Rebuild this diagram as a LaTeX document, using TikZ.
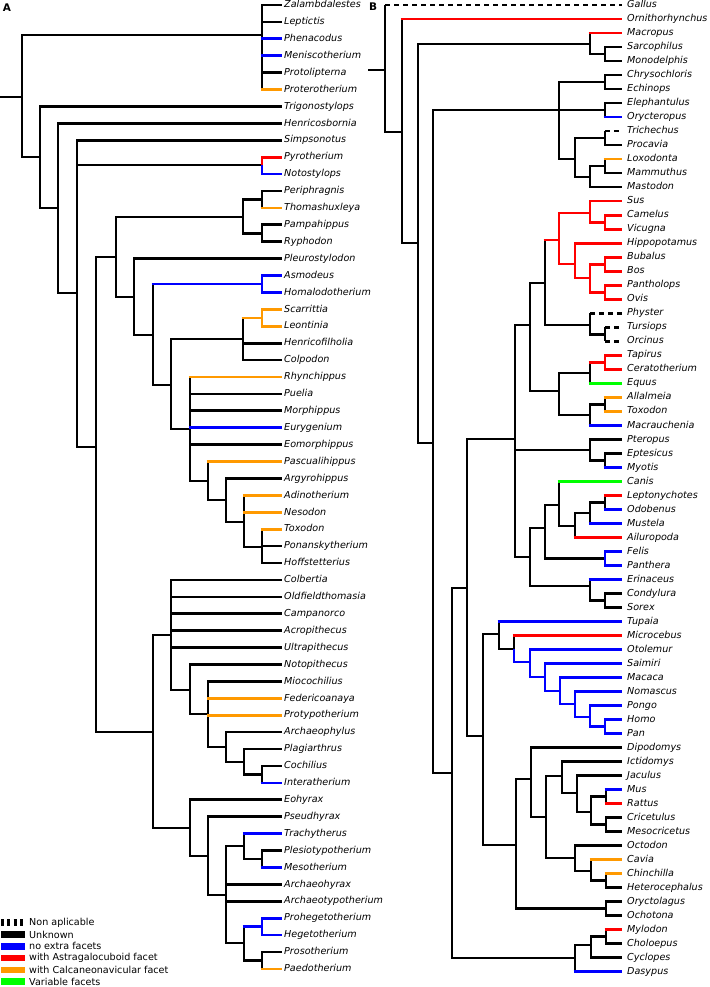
\documentclass[tikz,border=0pt]{standalone}
\usepackage{fontspec}
\setmainfont{DejaVu Sans}
\definecolor{FacetBlue}{HTML}{0000FF}
\definecolor{FacetRed}{HTML}{FF0000}
\definecolor{FacetOrange}{HTML}{FF9900}
\definecolor{FacetGreen}{HTML}{00FF00}

\begin{document}
\begin{tikzpicture}[x=1pt,y=-1pt,
  br/.style={line width=2.7pt},
  hz/.style={br,shorten <=-1.35pt},
  na/.style={br,dash pattern=on 4.5pt off 4.5pt},
  blu/.style={FacetBlue},
  rd/.style={FacetRed},
  ora/.style={FacetOrange},
  grn/.style={FacetGreen},
  tipA/.style={anchor=west,inner xsep=2pt,inner ysep=0pt,text height=7pt,
    text depth=1.6pt,font=\fontsize{9.6}{11}\selectfont\itshape},
  tipB/.style={tipA,inner xsep=5pt},
  panel/.style={font=\fontsize{10.5}{12}\selectfont\bfseries,inner sep=0pt},
  key/.style={line width=6.5pt},
  keyna/.style={key,dash pattern=on 3pt off 3.3pt},
  keyunk/.style={key},
  keyblu/.style={key,FacetBlue},
  keyrd/.style={key,FacetRed},
  keyora/.style={key,FacetOrange},
  keygrn/.style={key,FacetGreen},
  keytxt/.style={anchor=west,inner xsep=2pt,inner ysep=0pt,
    font=\fontsize{9.6}{11}\selectfont}]
  \useasboundingbox (0,0) rectangle (709,987);

  % ---------- A: notoungulates ----------
  \node[panel] (labA) at (7,8) {A};
  \coordinate (Abase) at (0,97);
  \coordinate (Ar)    at (22,97);
  \coordinate (Aout)  at (262,35);
  \coordinate (A40)   at (40,157);
  \coordinate (A58)   at (58,208);
  \coordinate (A77)   at (77,293);
  \coordinate (Apyr)  at (262,165);
  \coordinate (A96)   at (96,447);
  \coordinate (A116)  at (116,257);
  \coordinate (Aper)  at (243,217);
  \coordinate (Apt)   at (262,199.5);
  \coordinate (Apr)   at (262,233.3);
  \coordinate (A134)  at (134,297);
  \coordinate (A153)  at (153,335);
  \coordinate (Aasm)  at (262,284);
  \coordinate (A171)  at (171,385);
  \coordinate (Asl)   at (243,339);
  \coordinate (Asc)   at (262,318);
  \coordinate (A190)  at (190,429);
  \coordinate (A208)  at (208,481);
  \coordinate (A226)  at (226,500);
  \coordinate (A244)  at (244,522);
  \coordinate (A262)  at (262,547);
  \coordinate (A153b) at (153,732);
  \coordinate (A171b) at (171,635);
  \coordinate (A190b) at (190,690);
  \coordinate (A208b) at (208,714);
  \coordinate (A226b) at (226,747);
  \coordinate (A244b) at (244,762);
  \coordinate (A262b) at (262,774.4);
  \coordinate (A190c) at (190,828);
  \coordinate (A208c) at (208,856);
  \coordinate (A226c) at (226,895);
  \coordinate (A244c) at (244,846);
  \coordinate (A262c) at (262,859);
  \coordinate (A244d) at (244,943);
  \coordinate (A262d) at (262,926.6);
  \coordinate (A262e) at (262,960.4);

  \foreach \t [count=\i from 0] in {Zalambdalestes,Leptictis,Phenacodus,
    Meniscotherium,Protolipterna,Proterotherium,Trigonostylops,Henricosbornia,
    Simpsonotus,Pyrotherium,Notostylops,Periphragnis,Thomashuxleya,Pampahippus,
    Ryphodon,Pleurostylodon,Asmodeus,Homalodotherium,Scarrittia,Leontinia,
    Henricofilholia,Colpodon,Rhynchippus,Puelia,Morphippus,Eurygenium,
    Eomorphippus,Pascualihippus,Argyrohippus,Adinotherium,Nesodon,Toxodon,
    Ponanskytherium,Hoffstetterius,Colbertia,Oldfieldthomasia,Campanorco,
    Acropithecus,Ultrapithecus,Notopithecus,Miocochilius,Federicoanaya,
    Protypotherium,Archaeophylus,Plagiarthrus,Cochilius,Interatherium,Eohyrax,
    Pseudhyrax,Trachytherus,Plesiotypotherium,Mesotherium,Archaeohyrax,
    Archaeotypotherium,Prohegetotherium,Hegetotherium,Prosotherium,Paedotherium}
    \node[tipA] (a\i) at (282,{5+16.91*\i}) {\t};

  \draw[br] (Abase) -- (Ar);
  \foreach \p/\c in {Ar/Aout,Ar/A40,Aout/a0,Aout/a1,Aout/a2,Aout/a3,Aout/a4,
    Aout/a5,A40/a6,A40/A58,A58/a7,A58/A77,A77/a8,A77/Apyr,A77/A96,Apyr/a9,
    Apyr/a10,A96/A116,A96/A153b,A116/Aper,A116/A134,Aper/Apt,Aper/Apr,
    Apt/a11,Apt/a12,Apr/a13,Apr/a14,A134/a15,A134/A153,A153/Aasm,A153/A171,
    Aasm/a16,Aasm/a17,A171/Asl,A171/A190,Asl/Asc,Asl/a20,Asl/a21,Asc/a18,
    Asc/a19,A190/a22,A190/a23,A190/a24,A190/a25,A190/a26,A190/A208,A208/a27,
    A208/A226,A226/a28,A226/A244,A244/a29,A244/a30,A244/A262,A262/a31,
    A262/a32,A262/a33,A153b/A171b,A153b/A190c,A171b/a34,A171b/a35,A171b/a36,
    A171b/a37,A171b/a38,A171b/A190b,A190b/a39,A190b/A208b,A208b/a40,
    A208b/a41,A208b/a42,A208b/A226b,A226b/a43,A226b/A244b,A244b/a44,
    A244b/A262b,A262b/a45,A262b/a46,A190c/a47,A190c/A208c,A208c/a48,
    A208c/A226c,A226c/A244c,A226c/a52,A226c/a53,A226c/A244d,A244c/a49,
    A244c/A262c,A262c/a50,A262c/a51,A244d/A262d,A244d/A262e,A262d/a54,
    A262d/a55,A262e/a56,A262e/a57}
    \draw[br] (\p) |- (\c);

  % facets, horizontal part only
  \foreach \p/\c/\col in {Aout/a2/blu,Aout/a3/blu,Aout/a5/ora,Apt/a12/ora,
    A153/Aasm/blu,Asl/Asc/ora,A190/a22/ora,A190/a25/blu,A208/a27/ora,
    A244/a29/ora,A244/a30/ora,A262/a31/ora,A208b/a41/ora,A208b/a42/ora,
    A262b/a46/blu,A244c/a49/blu,A262c/a51/blu,A244d/A262d/blu,A262e/a57/ora}
    \draw[hz,\col] (\p |- \c) -- (\c);
  % facets, whole branch
  \foreach \p/\c/\col in {Apyr/a9/rd,Apyr/a10/blu,Aasm/a16/blu,Aasm/a17/blu,
    Asc/a18/ora,Asc/a19/ora,A262d/a54/blu,A262d/a55/blu}
    \draw[br,\col] (\p) |- (\c);

  % ---------- B: mammals ----------
  \node[panel] (labB) at (373,7) {B};
  \coordinate (Bbase) at (368,70);
  \coordinate (Br)    at (385,70);
  \coordinate (Bmam)  at (402,132);
  \coordinate (Bthe)  at (418,243);
  \coordinate (Bmar)  at (590,44);
  \coordinate (Bsm)   at (605,54);
  \coordinate (Bpla)  at (433,443);
  \coordinate (Bafr)  at (559,110);
  \coordinate (Bce)   at (605,82.1);
  \coordinate (Beo)   at (605,110.1);
  \coordinate (Bpae)  at (575,159);
  \coordinate (Btp)   at (605,138.1);
  \coordinate (Bpro)  at (590,177);
  \coordinate (Blm)   at (605,166.1);
  \coordinate (Bbor)  at (452,773);
  \coordinate (B467)  at (467,588);
  \coordinate (Blau)  at (515,439);
  \coordinate (B530)  at (530,325);
  \coordinate (B545)  at (545,283);
  \coordinate (Bart)  at (559,240);
  \coordinate (Bsus)  at (590,213);
  \coordinate (Bcv)   at (605,222.2);
  \coordinate (Bhip)  at (575,264);
  \coordinate (Bbov)  at (590,278);
  \coordinate (Bbb)   at (605,264.2);
  \coordinate (Bpo)   at (605,292.2);
  \coordinate (Bcet)  at (590,325);
  \coordinate (Bto)   at (605,334.2);
  \coordinate (Bper)  at (559,391);
  \coordinate (Btce)  at (590,373);
  \coordinate (Btc)   at (605,362.3);
  \coordinate (Batm)  at (590,415);
  \coordinate (Bat)   at (605,404.3);
  \coordinate (Bbat)  at (590,450);
  \coordinate (Bem)   at (605,460.3);
  \coordinate (B529)  at (530,557);
  \coordinate (Bcar)  at (545,528);
  \coordinate (Bcan)  at (559,505);
  \coordinate (Bail)  at (575,526);
  \coordinate (Blom)  at (590,513);
  \coordinate (Blo)   at (605,502.4);
  \coordinate (Bfp)   at (605,558.4);
  \coordinate (Beul)  at (590,586);
  \coordinate (Bcs)   at (605,600.4);
  \coordinate (Beua)  at (483,736);
  \coordinate (Bpri)  at (499,634);
  \coordinate (Bstr)  at (514,649);
  \coordinate (Bhap)  at (530,662);
  \coordinate (Banth) at (545,677);
  \coordinate (Bcat)  at (560,691);
  \coordinate (Bhom)  at (575,704);
  \coordinate (Bhmd)  at (590,717);
  \coordinate (Bhp)   at (605,726.5);
  \coordinate (Bgli)  at (516,845);
  \coordinate (Brod)  at (531,779);
  \coordinate (B546)  at (546,817);
  \coordinate (B562)  at (562,776);
  \coordinate (B577)  at (577,793);
  \coordinate (Bmur)  at (591,812);
  \coordinate (Bmr)   at (606,796.6);
  \coordinate (Bcm)   at (606,824.6);
  \coordinate (Bhys)  at (575,858);
  \coordinate (Bcav)  at (591,871);
  \coordinate (Bch)   at (606,880.6);
  \coordinate (Blag)  at (606,908.6);
  \coordinate (Bxen)  at (575,958);
  \coordinate (Bpil)  at (591,945);
  \coordinate (Bmc)   at (606,936.7);

  \foreach \t [count=\i from 0] in {Gallus,Ornithorhynchus,Macropus,
    Sarcophilus,Monodelphis,Chrysochloris,Echinops,Elephantulus,Orycteropus,
    Trichechus,Procavia,Loxodonta,Mammuthus,Mastodon,Sus,Camelus,Vicugna,
    Hippopotamus,Bubalus,Bos,Pantholops,Ovis,Physter,Tursiops,Orcinus,Tapirus,
    Ceratotherium,Equus,Allalmeia,Toxodon,Macrauchenia,Pteropus,Eptesicus,
    Myotis,Canis,Leptonychotes,Odobenus,Mustela,Ailuropoda,Felis,Panthera,
    Erinaceus,Condylura,Sorex,Tupaia,Microcebus,Otolemur,Saimiri,Macaca,
    Nomascus,Pongo,Homo,Pan,Dipodomys,Ictidomys,Jaculus,Mus,Rattus,Cricetulus,
    Mesocricetus,Octodon,Cavia,Chinchilla,Heterocephalus,Oryctolagus,Ochotona,
    Mylodon,Choloepus,Cyclopes,Dasypus}
    \node[tipB] (b\i) at (622,{5+14.01*\i}) {\t};

  \draw[br] (Bbase) -- (Br);
  \foreach \p/\c in {Br/Bmam,Bmam/b1,Bmam/Bthe,Bthe/Bmar,Bthe/Bpla,Bmar/b2,
    Bmar/Bsm,Bsm/b3,Bsm/b4,Bpla/Bafr,Bpla/Bbor,Bafr/Bce,Bafr/Beo,Bafr/Bpae,
    Bce/b5,Bce/b6,Beo/b7,Beo/b8,Bpae/Btp,Bpae/Bpro,Btp/b10,Bpro/Blm,
    Bpro/b13,Blm/b11,Blm/b12,Bbor/B467,Bbor/Bxen,B467/Blau,B467/Beua,
    Blau/B530,Blau/Bbat,Blau/B529,B530/B545,B530/Bper,B545/Bart,B545/Bcet,
    Bart/Bsus,Bart/Bhip,Bsus/b14,Bsus/Bcv,Bcv/b15,Bcv/b16,Bhip/b17,
    Bhip/Bbov,Bbov/Bbb,Bbov/Bpo,Bbb/b18,Bbb/b19,Bpo/b20,Bpo/b21,Bcet/Bto,
    Bper/Btce,Bper/Batm,Btce/Btc,Btce/b27,Btc/b25,Btc/b26,Batm/Bat,
    Batm/b30,Bat/b28,Bat/b29,Bbat/b31,Bbat/Bem,Bem/b32,Bem/b33,B529/Bcar,
    B529/Beul,Bcar/Bcan,Bcar/Bfp,Bcan/b34,Bcan/Bail,Bail/Blom,Bail/b38,
    Blom/Blo,Blom/b37,Blo/b35,Blo/b36,Bfp/b39,Bfp/b40,Beul/b41,Beul/Bcs,
    Bcs/b42,Bcs/b43,Beua/Bpri,Beua/Bgli,Bpri/b44,Bpri/Bstr,Bstr/b45,
    Bstr/Bhap,Bhap/b46,Bhap/Banth,Banth/b47,Banth/Bcat,Bcat/b48,Bcat/Bhom,
    Bhom/b49,Bhom/Bhmd,Bhmd/b50,Bhmd/Bhp,Bhp/b51,Bhp/b52,Bgli/Brod,
    Bgli/Blag,Brod/b53,Brod/B546,B546/B562,B546/Bhys,B562/b54,B562/B577,
    B577/b55,B577/Bmur,Bmur/Bmr,Bmur/Bcm,Bmr/b56,Bmr/b57,Bcm/b58,Bcm/b59,
    Bhys/b60,Bhys/Bcav,Bcav/b61,Bcav/Bch,Bch/b62,Bch/b63,Blag/b64,Blag/b65,
    Bxen/Bpil,Bxen/b69,Bpil/Bmc,Bpil/b68,Bmc/b66,Bmc/b67}
    \draw[br] (\p) |- (\c);

  % non aplicable: solid vertical, dotted branch
  \foreach \p/\c in {Br/b0,Btp/b9,Bcet/b22,Bto/b23,Bto/b24}{
    \draw[br] (\p) -- (\p |- \c);
    \draw[na] (\p |- \c) -- (\c);
  }

  \foreach \p/\c/\col in {Bmam/b1/rd,Bmar/b2/rd,Beo/b8/blu,Blm/b11/ora,
    B545/Bart/rd,Btce/Btc/rd,Btce/b27/grn,Bat/b28/ora,Bat/b29/ora,
    Batm/b30/blu,Bem/b33/blu,Bcan/b34/grn,Blo/b35/rd,Blo/b36/blu,
    Blom/b37/blu,Bail/b38/rd,Beul/b41/blu,Bpri/b44/blu,Bstr/b45/rd,
    Bmr/b56/blu,Bmr/b57/rd,Bcav/b61/ora,Bch/b62/ora,Bmc/b66/rd,Bxen/b69/blu}
    \draw[hz,\col] (\p |- \c) -- (\c);
  \foreach \p/\c/\col in {Bart/Bsus/rd,Bart/Bhip/rd,Bsus/b14/rd,Bsus/Bcv/rd,
    Bcv/b15/rd,Bcv/b16/rd,Bhip/b17/rd,Bhip/Bbov/rd,Bbov/Bbb/rd,Bbov/Bpo/rd,
    Bbb/b18/rd,Bbb/b19/rd,Bpo/b20/rd,Bpo/b21/rd,Btc/b25/rd,Btc/b26/rd,
    Bfp/b39/blu,Bfp/b40/blu,Bstr/Bhap/blu,Bhap/b46/blu,Bhap/Banth/blu,
    Banth/b47/blu,Banth/Bcat/blu,Bcat/b48/blu,Bcat/Bhom/blu,Bhom/b49/blu,
    Bhom/Bhmd/blu,Bhmd/b50/blu,Bhmd/Bhp/blu,Bhp/b51/blu,Bhp/b52/blu}
    \draw[br,\col] (\p) |- (\c);

  % legend
  \foreach \sty/\txt [count=\k from 0] in {keyna/Non aplicable,
    keyunk/Unknown,keyblu/no extra facets,keyrd/with Astragalocuboid facet,
    keyora/with Calcaneonavicular facet,keygrn/Variable facets}{
    \draw[\sty] (1,{922.7+11.8*\k}) -- (25,{922.7+11.8*\k});
    \node[keytxt] (key\k) at (27,{922.7+11.8*\k}) {\txt};
  }
\end{tikzpicture}
\end{document}
